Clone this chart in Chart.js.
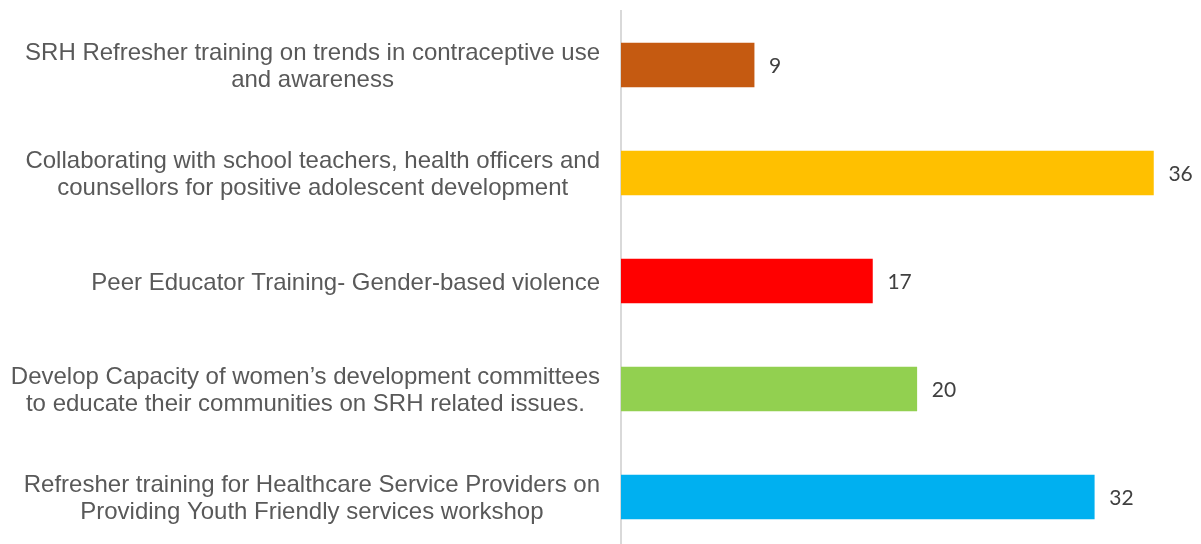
<!DOCTYPE html>
<html>
<head>
<meta charset="utf-8">
<script src="https://cdn.jsdelivr.net/npm/chart.js@4/dist/chart.umd.min.js"></script>
<style>
  html, body { margin: 0; padding: 0; background: #fff; overflow: hidden; }
  #wrap { position: relative; width: 1201px; height: 551px; }
</style>
</head>
<body>
<div id="wrap"><canvas id="c"></canvas></div>
<script>
const categories = [
  ["SRH Refresher training on trends in contraceptive use", "and awareness"],
  ["Collaborating with school teachers, health officers and", "counsellors for positive adolescent development"],
  ["Peer Educator Training- Gender-based violence"],
  ["Develop Capacity of women\u2019s development committees", "to educate their communities on SRH related issues."],
  ["Refresher training for Healthcare Service Providers on", "Providing Youth Friendly services workshop"]
];
const values = [9, 36, 17, 20, 32];
const barColors = ["#C55A11", "#FFC000", "#FF0000", "#92D050", "#00B0F0"];

const labelFont = '24px "Liberation Sans", Arial, sans-serif';
const valueFont = '21px Lato, "Open Sans", sans-serif';

const customLabels = {
  id: 'customLabels',
  afterDraw(chart) {
    const ctx = chart.ctx;
    const yScale = chart.scales.y;
    const xScale = chart.scales.x;
    const area = chart.chartArea;
    ctx.save();
    ctx.font = labelFont;
    ctx.fillStyle = '#595959';
    ctx.textAlign = 'center';
    ctx.textBaseline = 'middle';
    const lineH = 27;
    categories.forEach((lines, i) => {
      const y = yScale.getPixelForTick(i);
      const maxW = Math.max(...lines.map(l => ctx.measureText(l).width));
      const right = area.left - 21;
      const cx = right - maxW / 2;
      const y0 = y - (lines.length - 1) * lineH / 2;
      lines.forEach((l, j) => ctx.fillText(l, cx, y0 + j * lineH + 2));
    });
    ctx.font = valueFont;
    ctx.fillStyle = '#404040';
    ctx.textAlign = 'left';
    const meta = chart.getDatasetMeta(0);
    meta.data.forEach((bar, i) => {
      const x = xScale.getPixelForValue(values[i]);
      ctx.fillText(String(values[i]), x + 15, bar.y + 1);
    });
    ctx.restore();
  }
};

new Chart(document.getElementById('c'), {
  type: 'bar',
  data: {
    labels: categories,
    datasets: [{
      data: values,
      backgroundColor: barColors,
      borderWidth: 0,
      barThickness: 44
    }]
  },
  options: {
    indexAxis: 'y',
    responsive: true,
    maintainAspectRatio: false,
    animation: false,
    layout: { padding: { top: 11, right: 18, left: 0, bottom: 0 } },
    plugins: { legend: { display: false }, tooltip: { enabled: false } },
    scales: {
      x: {
        display: false,
        min: 0,
        max: 38
      },
      y: {
        display: true,
        ticks: { display: false },
        grid: { display: true, drawOnChartArea: false, drawTicks: false },
        border: { display: true, color: '#D9D9D9', width: 2 },
        afterFit(scale) { scale.width = 621; }
      }
    }
  },
  plugins: [customLabels]
});
</script>
</body>
</html>
